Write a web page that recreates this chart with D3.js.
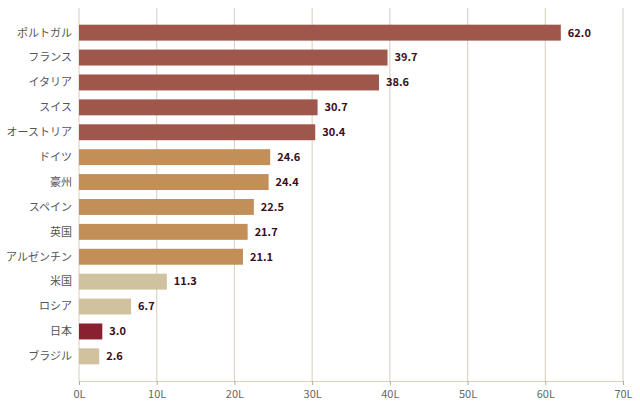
<!DOCTYPE html>
<html>
<head>
<meta charset="utf-8">
<script src="https://cdn.jsdelivr.net/npm/d3@7"></script>
<style>
  body { margin: 0; background: #fff; }
  text { font-family: "Noto Sans CJK JP", "Noto Sans", sans-serif; }
</style>
</head>
<body>
<div id="chart"></div>
<script>
// data
let countries = ["ポルトガル", "フランス", "イタリア", "スイス", "オーストリア", "ドイツ", "豪州",
  "スペイン", "英国", "アルゼンチン", "米国", "ロシア", "日本", "ブラジル"];
let litres = [62.0, 39.7, 38.6, 30.7, 30.4, 24.6, 24.4, 22.5, 21.7, 21.1, 11.3, 6.7, 3.0, 2.6];
let groups = ["high", "high", "high", "high", "high", "mid", "mid", "mid", "mid", "mid",
  "low", "low", "japan", "low"];
let xTicks = [0, 10, 20, 30, 40, 50, 60, 70];

let groupColor = {
  high: "#a0574b",
  mid: "#c28f58",
  low: "#d1c29f",
  japan: "#8a2131",
};

let width = 640, height = 408;
let margin = { top: 8, right: 17, bottom: 27, left: 79 };

let svg = d3.select("#chart").append("svg")
  .attr("width", width)
  .attr("height", height);

let x = d3.scaleLinear()
  .domain([0, 70])
  .range([margin.left, width - margin.right]);

let y = d3.scaleBand()
  .domain(countries)
  .range([margin.top, height - margin.bottom])
  .paddingInner(0.36)
  .paddingOuter(0.67);

// grid lines
svg.append("g")
  .selectAll("line")
  .data(xTicks)
  .enter()
  .append("line")
  .attr("x1", d => x(d))
  .attr("x2", d => x(d))
  .attr("y1", margin.top)
  .attr("y2", height - margin.bottom)
  .style("stroke", "#ddd6c6")
  .style("stroke-width", 1.2);

// x axis
let xAxis = svg.append("g")
  .attr("transform", "translate(0," + (height - margin.bottom) + ")")
  .call(d3.axisBottom(x).tickValues(xTicks).tickSize(4).tickFormat(d => d + "L"));
xAxis.select(".domain").style("stroke", "#d8d0bd").style("stroke-width", 1.2);
xAxis.selectAll(".tick line").style("stroke", "#b8ae98");
xAxis.selectAll(".tick text")
  .attr("dy", "0.95em")
  .style("font-size", "11px")
  .style("fill", "#666");

// bars
svg.append("g")
  .selectAll("rect")
  .data(countries)
  .enter()
  .append("rect")
  .attr("x", x(0))
  .attr("y", d => y(d))
  .attr("width", (d, i) => x(litres[i]) - x(0))
  .attr("height", y.bandwidth())
  .style("fill", (d, i) => groupColor[groups[i]]);

// value labels
svg.append("g")
  .selectAll("text")
  .data(countries)
  .enter()
  .append("text")
  .attr("x", (d, i) => x(litres[i]) + 7)
  .attr("y", d => y(d) + y.bandwidth() / 2)
  .attr("dy", "0.35em")
  .style("font-size", "11px")
  .style("font-weight", "bold")
  .style("fill", "#3a0d1c")
  .text((d, i) => litres[i].toFixed(1));

// category labels
svg.append("g")
  .selectAll("text")
  .data(countries)
  .enter()
  .append("text")
  .attr("x", margin.left - 7)
  .attr("y", d => y(d) + y.bandwidth() / 2)
  .attr("dy", "0.35em")
  .attr("text-anchor", "end")
  .style("font-size", "11px")
  .style("fill", "#555")
  .text(d => d);
</script>
</body>
</html>
